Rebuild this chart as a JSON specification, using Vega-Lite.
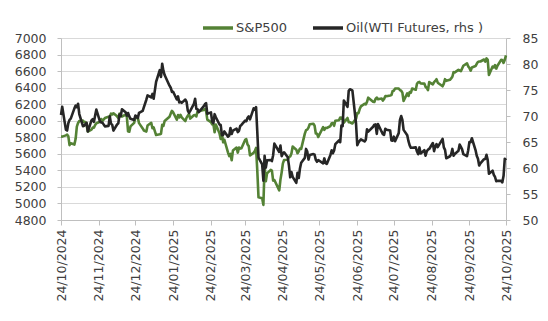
{
  "$schema": "https://vega.github.io/schema/vega-lite/v6.json",
  "width": 445,
  "height": 182,
  "autosize": "none",
  "padding": {"left": 61, "top": 38, "right": 42, "bottom": 101},
  "background": "white",
  "config": {
    "view": {"stroke": null},
    "font": "DejaVu Sans",
    "axis": {"labelFont": "DejaVu Sans", "labelFontSize": 12.5, "labelColor": "#404040", "title": null}
  },
  "data": {"values": [
    {"d":"2024-10-24","sp":5809,"oil":70.19},{"d":"2024-10-25","sp":5808,"oil":71.78},{"d":"2024-10-28","sp":5823,"oil":67.38},{"d":"2024-10-29","sp":5832,"oil":67.21},{"d":"2024-10-30","sp":5813,"oil":68.61},{"d":"2024-10-31","sp":5705,"oil":69.26},
    {"d":"2024-11-01","sp":5728,"oil":69.49},{"d":"2024-11-04","sp":5712,"oil":71.47},{"d":"2024-11-05","sp":5782,"oil":71.99},{"d":"2024-11-06","sp":5929,"oil":71.69},{"d":"2024-11-07","sp":5973,"oil":72.36},{"d":"2024-11-08","sp":5996,"oil":70.38},{"d":"2024-11-11","sp":6001,"oil":68.04},{"d":"2024-11-12","sp":5984,"oil":68.12},{"d":"2024-11-13","sp":5985,"oil":68.43},{"d":"2024-11-14","sp":5949,"oil":68.70},{"d":"2024-11-15","sp":5870,"oil":67.02},{"d":"2024-11-18","sp":5893,"oil":69.16},{"d":"2024-11-19","sp":5917,"oil":69.39},{"d":"2024-11-20","sp":5917,"oil":68.87},{"d":"2024-11-21","sp":5948,"oil":70.10},{"d":"2024-11-22","sp":5969,"oil":71.24},{"d":"2024-11-25","sp":5987,"oil":68.94},{"d":"2024-11-26","sp":6021,"oil":68.77},{"d":"2024-11-27","sp":5998,"oil":68.72},{"d":"2024-11-29","sp":6032,"oil":68.00},
    {"d":"2024-12-02","sp":6047,"oil":68.10},{"d":"2024-12-03","sp":6049,"oil":69.94},{"d":"2024-12-04","sp":6086,"oil":68.54},{"d":"2024-12-05","sp":6075,"oil":68.30},{"d":"2024-12-06","sp":6090,"oil":67.20},{"d":"2024-12-09","sp":6053,"oil":68.37},{"d":"2024-12-10","sp":6034,"oil":68.59},{"d":"2024-12-11","sp":6085,"oil":70.29},{"d":"2024-12-12","sp":6051,"oil":70.02},{"d":"2024-12-13","sp":6051,"oil":71.29},{"d":"2024-12-16","sp":6074,"oil":70.71},{"d":"2024-12-17","sp":6050,"oil":70.08},{"d":"2024-12-18","sp":5872,"oil":70.58},{"d":"2024-12-19","sp":5867,"oil":69.91},{"d":"2024-12-20","sp":5931,"oil":69.46},{"d":"2024-12-23","sp":5974,"oil":69.24},{"d":"2024-12-24","sp":6040,"oil":70.10},{"d":"2024-12-26","sp":6037,"oil":69.62},{"d":"2024-12-27","sp":5971,"oil":70.60},{"d":"2024-12-30","sp":5907,"oil":70.99},{"d":"2024-12-31","sp":5882,"oil":71.72},
    {"d":"2025-01-02","sp":5869,"oil":73.13},{"d":"2025-01-03","sp":5942,"oil":73.96},{"d":"2025-01-06","sp":5975,"oil":73.56},{"d":"2025-01-07","sp":5909,"oil":74.25},{"d":"2025-01-08","sp":5919,"oil":73.32},{"d":"2025-01-10","sp":5827,"oil":76.57},{"d":"2025-01-13","sp":5836,"oil":78.82},{"d":"2025-01-14","sp":5843,"oil":77.50},{"d":"2025-01-15","sp":5950,"oil":80.04},{"d":"2025-01-16","sp":5937,"oil":78.68},{"d":"2025-01-17","sp":5997,"oil":77.88},{"d":"2025-01-21","sp":6049,"oil":75.83},{"d":"2025-01-22","sp":6086,"oil":75.44},{"d":"2025-01-23","sp":6119,"oil":74.62},{"d":"2025-01-24","sp":6101,"oil":74.66},{"d":"2025-01-27","sp":6012,"oil":73.17},{"d":"2025-01-28","sp":6068,"oil":73.77},{"d":"2025-01-29","sp":6039,"oil":72.62},{"d":"2025-01-30","sp":6071,"oil":72.73},{"d":"2025-01-31","sp":6041,"oil":72.53},
    {"d":"2025-02-03","sp":5995,"oil":73.16},{"d":"2025-02-04","sp":6038,"oil":72.70},{"d":"2025-02-05","sp":6061,"oil":71.03},{"d":"2025-02-06","sp":6083,"oil":70.61},{"d":"2025-02-07","sp":6026,"oil":71.00},{"d":"2025-02-10","sp":6066,"oil":72.32},{"d":"2025-02-11","sp":6069,"oil":73.32},{"d":"2025-02-12","sp":6052,"oil":71.37},{"d":"2025-02-13","sp":6115,"oil":71.29},{"d":"2025-02-14","sp":6115,"oil":70.74},{"d":"2025-02-18","sp":6129,"oil":71.85},{"d":"2025-02-19","sp":6144,"oil":72.25},{"d":"2025-02-20","sp":6118,"oil":72.48},{"d":"2025-02-21","sp":6013,"oil":70.40},{"d":"2025-02-24","sp":5983,"oil":70.70},{"d":"2025-02-25","sp":5955,"oil":68.93},{"d":"2025-02-26","sp":5956,"oil":68.62},{"d":"2025-02-27","sp":5861,"oil":70.35},{"d":"2025-02-28","sp":5955,"oil":69.76},
    {"d":"2025-03-03","sp":5850,"oil":68.37},{"d":"2025-03-04","sp":5779,"oil":68.26},{"d":"2025-03-05","sp":5843,"oil":66.31},{"d":"2025-03-06","sp":5739,"oil":66.36},{"d":"2025-03-07","sp":5770,"oil":67.04},{"d":"2025-03-10","sp":5615,"oil":66.03},{"d":"2025-03-11","sp":5572,"oil":66.25},{"d":"2025-03-12","sp":5599,"oil":67.68},{"d":"2025-03-13","sp":5522,"oil":66.55},{"d":"2025-03-14","sp":5639,"oil":67.18},{"d":"2025-03-17","sp":5675,"oil":67.58},{"d":"2025-03-18","sp":5615,"oil":66.90},{"d":"2025-03-19","sp":5675,"oil":67.16},{"d":"2025-03-20","sp":5663,"oil":68.07},{"d":"2025-03-21","sp":5668,"oil":68.28},{"d":"2025-03-24","sp":5768,"oil":69.11},{"d":"2025-03-25","sp":5777,"oil":69.00},{"d":"2025-03-26","sp":5712,"oil":69.65},{"d":"2025-03-27","sp":5693,"oil":69.92},{"d":"2025-03-28","sp":5581,"oil":69.36},{"d":"2025-03-31","sp":5612,"oil":71.48},
    {"d":"2025-04-01","sp":5633,"oil":71.20},{"d":"2025-04-02","sp":5671,"oil":71.71},{"d":"2025-04-03","sp":5397,"oil":66.95},{"d":"2025-04-04","sp":5074,"oil":61.99},{"d":"2025-04-07","sp":5062,"oil":60.70},{"d":"2025-04-08","sp":4983,"oil":57.58},{"d":"2025-04-09","sp":5457,"oil":62.35},{"d":"2025-04-10","sp":5268,"oil":60.07},{"d":"2025-04-11","sp":5363,"oil":61.50},{"d":"2025-04-14","sp":5406,"oil":61.53},{"d":"2025-04-15","sp":5397,"oil":61.33},{"d":"2025-04-16","sp":5276,"oil":62.47},{"d":"2025-04-17","sp":5283,"oil":64.68},{"d":"2025-04-21","sp":5158,"oil":63.08},{"d":"2025-04-22","sp":5288,"oil":64.31},{"d":"2025-04-23","sp":5376,"oil":62.27},{"d":"2025-04-24","sp":5485,"oil":62.79},{"d":"2025-04-25","sp":5525,"oil":63.02},{"d":"2025-04-28","sp":5529,"oil":62.05},{"d":"2025-04-29","sp":5561,"oil":60.42},{"d":"2025-04-30","sp":5569,"oil":58.21},
    {"d":"2025-05-01","sp":5604,"oil":59.24},{"d":"2025-05-02","sp":5687,"oil":58.29},{"d":"2025-05-05","sp":5650,"oil":57.13},{"d":"2025-05-06","sp":5607,"oil":59.09},{"d":"2025-05-07","sp":5631,"oil":58.07},{"d":"2025-05-08","sp":5664,"oil":59.91},{"d":"2025-05-09","sp":5660,"oil":61.02},{"d":"2025-05-12","sp":5844,"oil":61.95},{"d":"2025-05-13","sp":5886,"oil":63.67},{"d":"2025-05-14","sp":5892,"oil":63.15},{"d":"2025-05-15","sp":5916,"oil":61.62},{"d":"2025-05-16","sp":5958,"oil":62.49},{"d":"2025-05-19","sp":5964,"oil":62.69},{"d":"2025-05-20","sp":5940,"oil":62.56},{"d":"2025-05-21","sp":5845,"oil":61.57},{"d":"2025-05-22","sp":5842,"oil":61.20},{"d":"2025-05-23","sp":5803,"oil":61.53},{"d":"2025-05-27","sp":5922,"oil":60.89},{"d":"2025-05-28","sp":5889,"oil":61.84},{"d":"2025-05-29","sp":5913,"oil":60.94},{"d":"2025-05-30","sp":5912,"oil":60.79},
    {"d":"2025-06-02","sp":5936,"oil":62.52},{"d":"2025-06-03","sp":5970,"oil":63.41},{"d":"2025-06-04","sp":5971,"oil":62.85},{"d":"2025-06-05","sp":5939,"oil":63.37},{"d":"2025-06-06","sp":6000,"oil":64.58},{"d":"2025-06-09","sp":6006,"oil":65.29},{"d":"2025-06-10","sp":6039,"oil":64.98},{"d":"2025-06-11","sp":6022,"oil":68.15},{"d":"2025-06-12","sp":6045,"oil":68.04},{"d":"2025-06-13","sp":5977,"oil":72.98},{"d":"2025-06-16","sp":6033,"oil":71.77},{"d":"2025-06-17","sp":5983,"oil":74.84},{"d":"2025-06-18","sp":5981,"oil":75.14},{"d":"2025-06-20","sp":5967,"oil":74.93},{"d":"2025-06-23","sp":6025,"oil":68.51},{"d":"2025-06-24","sp":6092,"oil":64.37},{"d":"2025-06-25","sp":6092,"oil":64.92},{"d":"2025-06-26","sp":6141,"oil":65.24},{"d":"2025-06-27","sp":6173,"oil":65.52},{"d":"2025-06-30","sp":6205,"oil":65.11},
    {"d":"2025-07-01","sp":6198,"oil":65.45},{"d":"2025-07-02","sp":6227,"oil":67.45},{"d":"2025-07-03","sp":6279,"oil":67.00},{"d":"2025-07-07","sp":6230,"oil":67.93},{"d":"2025-07-08","sp":6226,"oil":68.33},{"d":"2025-07-09","sp":6263,"oil":68.38},{"d":"2025-07-10","sp":6280,"oil":66.57},{"d":"2025-07-11","sp":6260,"oil":68.45},{"d":"2025-07-14","sp":6269,"oil":66.98},{"d":"2025-07-15","sp":6244,"oil":66.52},{"d":"2025-07-16","sp":6264,"oil":66.38},{"d":"2025-07-17","sp":6297,"oil":67.54},{"d":"2025-07-18","sp":6297,"oil":67.34},{"d":"2025-07-21","sp":6306,"oil":67.20},{"d":"2025-07-22","sp":6310,"oil":65.31},{"d":"2025-07-23","sp":6359,"oil":65.25},{"d":"2025-07-24","sp":6363,"oil":66.03},{"d":"2025-07-25","sp":6389,"oil":65.16},{"d":"2025-07-28","sp":6390,"oil":66.71},{"d":"2025-07-29","sp":6371,"oil":69.21},{"d":"2025-07-30","sp":6363,"oil":70.00},{"d":"2025-07-31","sp":6339,"oil":69.26},
    {"d":"2025-08-01","sp":6238,"oil":67.33},{"d":"2025-08-04","sp":6330,"oil":66.29},{"d":"2025-08-05","sp":6299,"oil":65.16},{"d":"2025-08-06","sp":6345,"oil":64.35},{"d":"2025-08-07","sp":6340,"oil":63.88},{"d":"2025-08-08","sp":6389,"oil":63.88},{"d":"2025-08-11","sp":6374,"oil":63.96},{"d":"2025-08-12","sp":6446,"oil":63.17},{"d":"2025-08-13","sp":6466,"oil":62.65},{"d":"2025-08-14","sp":6469,"oil":63.96},{"d":"2025-08-15","sp":6450,"oil":62.80},{"d":"2025-08-18","sp":6449,"oil":63.42},{"d":"2025-08-19","sp":6411,"oil":62.35},{"d":"2025-08-20","sp":6396,"oil":63.21},{"d":"2025-08-21","sp":6370,"oil":63.52},{"d":"2025-08-22","sp":6467,"oil":63.66},{"d":"2025-08-25","sp":6439,"oil":64.80},{"d":"2025-08-26","sp":6466,"oil":63.25},{"d":"2025-08-27","sp":6481,"oil":64.15},{"d":"2025-08-28","sp":6502,"oil":64.60},{"d":"2025-08-29","sp":6460,"oil":64.01},
    {"d":"2025-09-02","sp":6416,"oil":65.59},{"d":"2025-09-03","sp":6448,"oil":63.97},{"d":"2025-09-04","sp":6502,"oil":63.48},{"d":"2025-09-05","sp":6482,"oil":61.87},{"d":"2025-09-08","sp":6495,"oil":62.26},{"d":"2025-09-09","sp":6512,"oil":62.63},{"d":"2025-09-10","sp":6532,"oil":63.67},{"d":"2025-09-11","sp":6587,"oil":62.37},{"d":"2025-09-12","sp":6584,"oil":62.69},{"d":"2025-09-15","sp":6615,"oil":63.30},{"d":"2025-09-16","sp":6607,"oil":64.52},{"d":"2025-09-17","sp":6600,"oil":64.05},{"d":"2025-09-18","sp":6632,"oil":63.57},{"d":"2025-09-19","sp":6664,"oil":62.68},{"d":"2025-09-22","sp":6694,"oil":62.28},{"d":"2025-09-23","sp":6657,"oil":63.41},{"d":"2025-09-24","sp":6638,"oil":64.99},{"d":"2025-09-25","sp":6605,"oil":64.98},{"d":"2025-09-26","sp":6644,"oil":65.72},{"d":"2025-09-29","sp":6661,"oil":63.45},{"d":"2025-09-30","sp":6688,"oil":62.37},
    {"d":"2025-10-01","sp":6711,"oil":61.78},{"d":"2025-10-02","sp":6715,"oil":60.48},{"d":"2025-10-03","sp":6716,"oil":60.88},{"d":"2025-10-06","sp":6740,"oil":61.69},{"d":"2025-10-07","sp":6714,"oil":61.73},{"d":"2025-10-08","sp":6753,"oil":62.55},{"d":"2025-10-09","sp":6735,"oil":61.51},{"d":"2025-10-10","sp":6553,"oil":58.90},{"d":"2025-10-13","sp":6655,"oil":59.49},{"d":"2025-10-14","sp":6644,"oil":58.70},{"d":"2025-10-15","sp":6671,"oil":58.27},{"d":"2025-10-16","sp":6630,"oil":57.46},{"d":"2025-10-17","sp":6664,"oil":57.54},{"d":"2025-10-20","sp":6736,"oil":57.52},{"d":"2025-10-21","sp":6735,"oil":57.24},{"d":"2025-10-22","sp":6699,"oil":58.50},{"d":"2025-10-23","sp":6738,"oil":61.79},{"d":"2025-10-24","sp":6791,"oil":61.50}
  ]},
  "encoding": {
    "x": {
      "field": "d", "type": "temporal",
      "scale": {"type": "utc", "domain": [{"year": 2024, "month": 10, "date": 24, "utc": true}, {"year": 2025, "month": 10, "date": 24, "utc": true}]},
      "axis": {
        "values": [
          {"year": 2024, "month": 10, "date": 24, "utc": true}, {"year": 2024, "month": 11, "date": 24, "utc": true}, {"year": 2024, "month": 12, "date": 24, "utc": true},
          {"year": 2025, "month": 1, "date": 24, "utc": true}, {"year": 2025, "month": 2, "date": 24, "utc": true}, {"year": 2025, "month": 3, "date": 24, "utc": true},
          {"year": 2025, "month": 4, "date": 24, "utc": true}, {"year": 2025, "month": 5, "date": 24, "utc": true}, {"year": 2025, "month": 6, "date": 24, "utc": true},
          {"year": 2025, "month": 7, "date": 24, "utc": true}, {"year": 2025, "month": 8, "date": 24, "utc": true}, {"year": 2025, "month": 9, "date": 24, "utc": true},
          {"year": 2025, "month": 10, "date": 24, "utc": true}
        ],
        "labelExpr": "utcFormat(datum.value, '%d/%m/%Y')",
        "labelFontSize": 12.5,
        "labelAngle": -90, "labelPadding": 4, "labelOverlap": false, "labelFlush": false, "labelBound": false,
        "grid": false, "domainColor": "#bfbfbf", "tickColor": "#bfbfbf", "tickSize": 5
      }
    },
    "color": {
      "datum": "S&P500", "type": "nominal",
      "scale": {"domain": ["S&P500", "Oil(WTI Futures, rhs )"], "range": ["#548235", "#262626"]},
      "legend": {
        "orient": "none", "legendX": 140, "legendY": -27, "direction": "horizontal", "title": null,
        "symbolType": "stroke", "symbolSize": 900, "symbolStrokeWidth": 3.5,
        "labelFont": "DejaVu Sans", "labelFontSize": 13, "labelColor": "#404040", "labelOffset": 1, "columnPadding": 18
      }
    }
  },
  "layer": [
    {
      "mark": {"type": "line", "strokeWidth": 2.6, "strokeJoin": "round"},
      "encoding": {
        "y": {
          "field": "sp", "type": "quantitative",
          "scale": {"domain": [4800, 7000], "nice": false, "zero": false},
          "axis": {
            "values": [4800, 5000, 5200, 5400, 5600, 5800, 6000, 6200, 6400, 6600, 6800, 7000],
            "format": "d",
            "grid": true, "gridColor": "#d9d9d9", "ticks": true, "tickSize": 4, "tickColor": "#bfbfbf", "labelPadding": 11,
            "domainColor": "#bfbfbf"
          }
        },
        "color": {"datum": "S&P500", "type": "nominal"}
      }
    },
    {
      "mark": {"type": "line", "strokeWidth": 2.6, "strokeJoin": "round"},
      "encoding": {
        "y": {
          "field": "oil", "type": "quantitative",
          "scale": {"domain": [50, 85], "nice": false, "zero": false},
          "axis": {
            "orient": "right", "values": [50, 55, 60, 65, 70, 75, 80, 85],
            "format": "d", "labelFontSize": 12.5,
            "grid": false, "ticks": true, "tickSize": 4, "tickColor": "#bfbfbf", "labelPadding": 12,
            "domainColor": "#bfbfbf"
          }
        },
        "color": {"datum": "Oil(WTI Futures, rhs )", "type": "nominal"}
      }
    }
  ],
  "resolve": {"scale": {"y": "independent"}}
}
